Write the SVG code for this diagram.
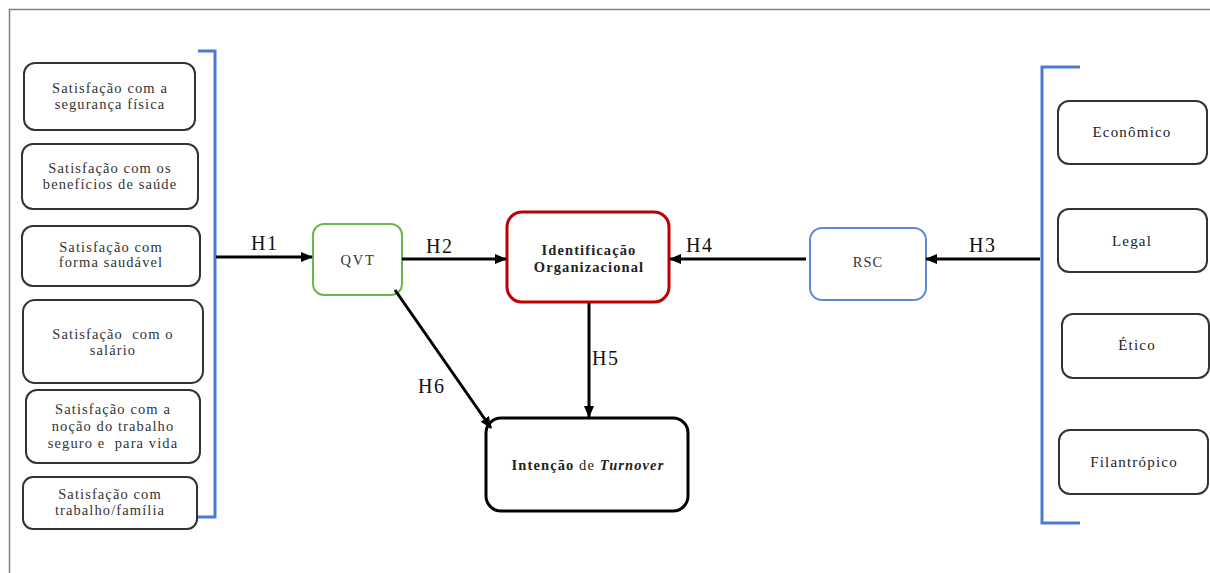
<svg xmlns="http://www.w3.org/2000/svg" width="1210" height="573" viewBox="0 0 1210 573">
<defs>
<marker id="ah" markerUnits="userSpaceOnUse" markerWidth="12" markerHeight="10" refX="11" refY="5" orient="auto">
<path d="M0,0 L12,5 L0,10 Z" fill="#000"/>
</marker>
<style>
.frame{stroke:#808080;stroke-width:1.5;fill:none}
.box{fill:#fff;stroke:#333;stroke-width:2}
.br{fill:none;stroke:#4a7bd0;stroke-width:3}
text{font-family:'Liberation Serif','DejaVu Serif',serif}
.t{font-size:14.5px;fill:#333;text-anchor:middle;letter-spacing:1.1px}
.tr{font-size:15px;fill:#222;text-anchor:middle;letter-spacing:1.2px}
.tb{font-size:14.5px;font-weight:bold;fill:#222;text-anchor:middle;letter-spacing:1.1px}
.h{font-size:20px;fill:#111;letter-spacing:1.5px}
.c{stroke:#000;stroke-width:3;fill:none}
</style>
</defs>
<rect width="1210" height="573" fill="#fff"/>
<path class="frame" d="M9.5,573 V9.5 H1210"/>

<g id="brackets">
<path class="br" d="M198,51 H215 V517 H197"/>
<path class="br" d="M1080,67 H1042 V523 H1080"/>
</g>

<g id="n1"><rect class="box" x="24" y="63" width="171" height="67" rx="11"/>
<text class="t" x="110" y="93">Satisfação com a</text><text class="t" x="110" y="109">segurança física</text></g>
<g id="n2"><rect class="box" x="22" y="144" width="176" height="65" rx="11"/>
<text class="t" x="110" y="173">Satisfação com os</text><text class="t" x="110" y="189">benefícios de saúde</text></g>
<g id="n3"><rect class="box" x="22" y="226" width="178" height="60" rx="11"/>
<text class="t" x="111" y="252">Satisfação com</text><text class="t" x="111" y="267">forma saudável</text></g>
<g id="n4"><rect class="box" x="23" y="300" width="180" height="83" rx="12"/>
<text class="t" x="113" y="339">Satisfação&#160; com o</text><text class="t" x="113" y="355">salário</text></g>
<g id="n5"><rect class="box" x="26" y="390" width="174" height="73" rx="11"/>
<text class="t" x="113" y="414">Satisfação com a</text><text class="t" x="113" y="431">noção do trabalho</text><text class="t" x="113" y="448">seguro e&#160; para vida</text></g>
<g id="n6"><rect class="box" x="23" y="477" width="174" height="52" rx="10"/>
<text class="t" x="110" y="499">Satisfação com</text><text class="t" x="110" y="515">trabalho/família</text></g>

<g id="qvt"><rect x="313" y="224" width="89" height="71" rx="11" fill="#fff" stroke="#6cb84a" stroke-width="2"/>
<text class="t" x="358" y="265" style="letter-spacing:1.8px">QVT</text></g>
<g id="ident"><rect x="507" y="212" width="162" height="90" rx="15" fill="#fff" stroke="#c00000" stroke-width="3"/>
<text class="tb" x="589" y="255">Identificação</text><text class="tb" x="589" y="272">Organizacional</text></g>
<g id="rsc"><rect x="810" y="228" width="116" height="72" rx="12" fill="#fff" stroke="#5b8bd6" stroke-width="2"/>
<text class="t" x="868" y="267">RSC</text></g>
<g id="turnover"><rect x="486" y="418" width="202" height="93" rx="15" fill="#fff" stroke="#000" stroke-width="3"/>
<text class="tb" x="588" y="470">Intenção <tspan font-weight="normal">de</tspan> <tspan font-style="italic">Turnover</tspan></text></g>

<g id="r1"><rect class="box" x="1058" y="101" width="149" height="63" rx="11"/><text class="tr" x="1132" y="137">Econômico</text></g>
<g id="r2"><rect class="box" x="1058" y="209" width="149" height="63" rx="11"/><text class="tr" x="1132" y="246">Legal</text></g>
<g id="r3"><rect class="box" x="1062" y="314" width="147" height="64" rx="11"/><text class="tr" x="1137" y="350">Ético</text></g>
<g id="r4"><rect class="box" x="1059" y="430" width="149" height="64" rx="11"/><text class="tr" x="1134" y="467">Filantrópico</text></g>

<g id="connectors">
<line class="c" x1="216" y1="257" x2="312" y2="257" marker-end="url(#ah)"/>
<line class="c" x1="402" y1="259" x2="506" y2="259" marker-end="url(#ah)"/>
<line class="c" x1="806" y1="259" x2="670" y2="259" marker-end="url(#ah)"/>
<line class="c" x1="1040" y1="259" x2="926" y2="259" marker-end="url(#ah)"/>
<line class="c" x1="589" y1="303" x2="589" y2="417" marker-end="url(#ah)"/>
<line class="c" x1="395" y1="290" x2="491" y2="428" marker-end="url(#ah)"/>
</g>
<g id="labels">
<text class="h" x="251" y="250">H1</text>
<text class="h" x="426" y="253">H2</text>
<text class="h" x="969" y="252">H3</text>
<text class="h" x="686" y="252">H4</text>
<text class="h" x="592" y="365">H5</text>
<text class="h" x="418" y="393">H6</text>
</g>
</svg>
